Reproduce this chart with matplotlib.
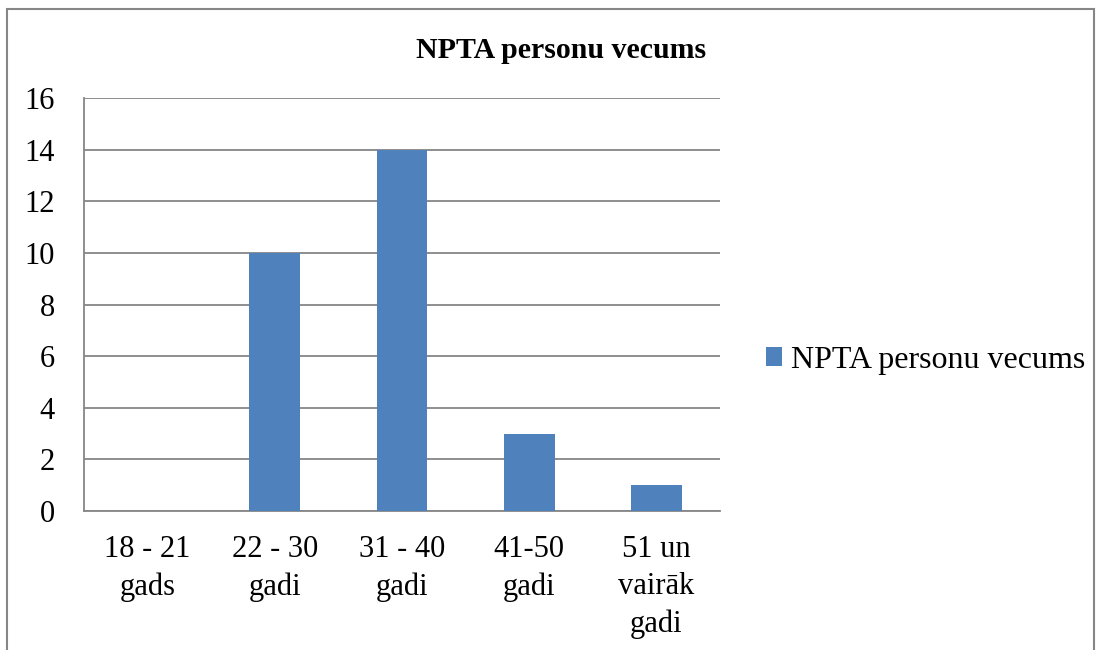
import matplotlib.pyplot as plt
from matplotlib.patches import Rectangle

categories = ['18 - 21\ngads', '22 - 30\ngadi', '31 - 40\ngadi', '41-50\ngadi', '51 un\nvairāk\ngadi']
values = [0, 10, 14, 3, 1]
series_name = 'NPTA personu vecums'
title = 'NPTA personu vecums'

plt.rcParams['font.family'] = ['Liberation Serif', 'DejaVu Serif']

fig = plt.figure(figsize=(11.02, 6.5), dpi=100)
W, H = 1102, 650
ax = fig.add_axes([84 / W, 1 - 511 / H, (720 - 84) / W, (511 - 98) / H])

x = range(len(categories))
ax.bar(x, values, width=0.4, color='#4F81BD', label=series_name, zorder=3)

ax.set_xlim(-0.5, len(categories) - 0.5)
ax.set_ylim(0, 16)
ax.set_yticks(range(0, 17, 2))
ax.set_xticks(list(x))
ax.set_xticklabels(categories, fontsize=22, linespacing=1.38)
ax.tick_params(axis='y', labelsize=22, length=0, pad=21)
ax.tick_params(axis='x', length=0, pad=17)
ax.grid(axis='y', color='#868686', linewidth=1.3, zorder=0)
for side in ['top', 'right']:
    ax.spines[side].set_visible(False)
for side in ['left', 'bottom']:
    ax.spines[side].set_color('#868686')
    ax.spines[side].set_linewidth(1.3)

fig.text(561 / W, 1 - 51 / H, title, ha='center', va='center', fontsize=21.5, fontweight='bold')

ax.legend(loc='center left', bbox_to_anchor=(1.072, 0.365), frameon=False, fontsize=23,
          handlelength=0.5, handleheight=0.5, handletextpad=0.3, borderpad=0, borderaxespad=0)

fig.patches.append(Rectangle((7 / W, -0.01), (1094 - 7) / W, 1 - 9 / H + 0.01, transform=fig.transFigure,
                             fill=False, edgecolor='#868686', linewidth=1.5))

fig.savefig('out.png', dpi=100)
